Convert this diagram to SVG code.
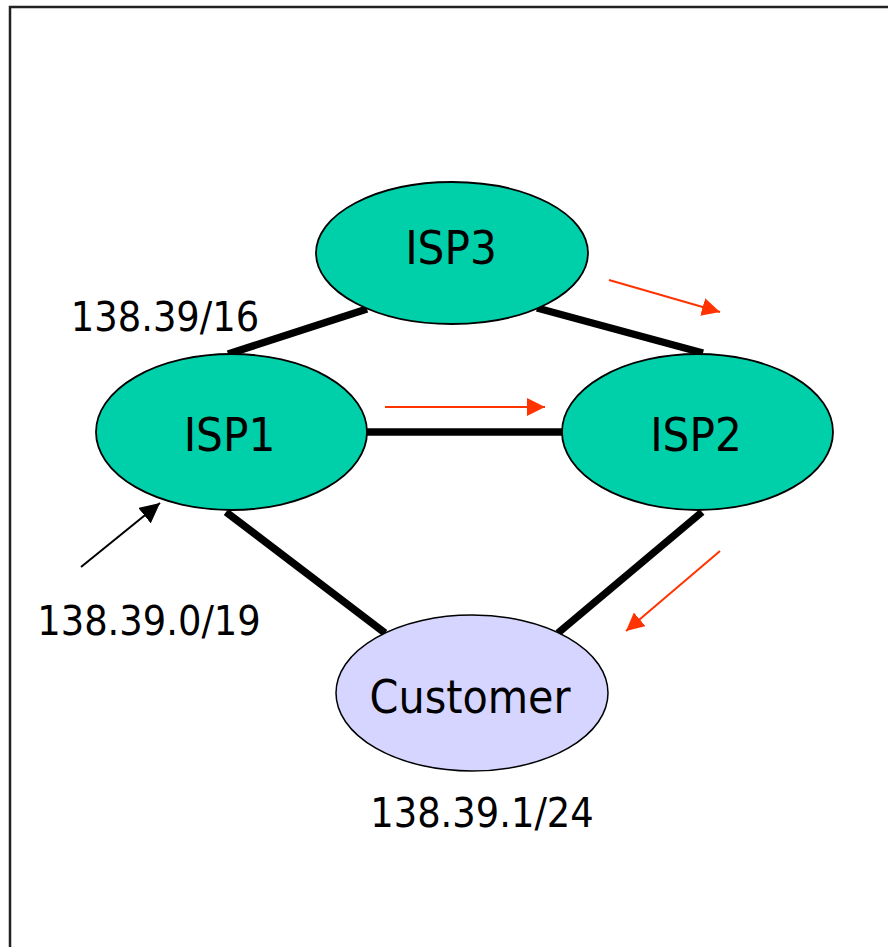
<svg xmlns="http://www.w3.org/2000/svg" width="888" height="947" viewBox="0 0 888 947">
<style>
.isp{fill:#00D0AA;stroke:#000;stroke-width:1.8}
.cust{fill:#D5D5FF;stroke:#000;stroke-width:1.5}
.link{stroke:#000;stroke-width:7.5;fill:none}
.red{stroke:#FF3300;stroke-width:2;fill:none}
.blk{stroke:#000;stroke-width:2;fill:none}
text{font-family:"DejaVu Sans Condensed","DejaVu Sans",sans-serif;fill:#000}
.big{font-size:47px;font-stretch:condensed}
.lbl{font-size:41px;font-stretch:condensed}
</style>
<defs>
<marker id="ar" viewBox="0 0 10 10" refX="10" refY="5" markerWidth="9" markerHeight="9" markerUnits="strokeWidth" orient="auto">
<path d="M0,0 L10,5 L0,10 Z" fill="#FF3300"/>
</marker>
<marker id="ab" viewBox="0 0 10 10" refX="10" refY="5" markerWidth="10" markerHeight="10" markerUnits="strokeWidth" orient="auto">
<path d="M0,0 L10,5 L0,10 Z" fill="#000"/>
</marker>
</defs>
<rect x="0" y="0" width="888" height="947" fill="#fff"/>
<rect x="10" y="7" width="900" height="960" fill="none" stroke="#222" stroke-width="2.5"/>
<g id="connectors">
<line class="link" x1="228" y1="354" x2="367" y2="309"/>
<line class="link" x1="537" y1="308" x2="703" y2="353"/>
<line class="link" x1="367" y1="432" x2="562" y2="432"/>
<line class="link" x1="226" y1="512" x2="385" y2="633"/>
<line class="link" x1="702" y1="512" x2="558" y2="633"/>
<line class="red" x1="609" y1="280" x2="720" y2="312" marker-end="url(#ar)"/>
<line class="red" x1="385" y1="407" x2="545" y2="407" marker-end="url(#ar)"/>
<line class="red" x1="720" y1="551" x2="626" y2="631" marker-end="url(#ar)"/>
<line class="blk" x1="81" y1="567" x2="160" y2="503" marker-end="url(#ab)"/>
</g>
<g id="isp3">
<ellipse class="isp" cx="452" cy="253" rx="136" ry="71"/>
<text class="big" x="451" y="264" text-anchor="middle">ISP3</text>
</g>
<g id="isp1">
<ellipse class="isp" cx="231.5" cy="432" rx="135.5" ry="78"/>
<text class="big" x="229.5" y="451" text-anchor="middle">ISP1</text>
</g>
<g id="isp2">
<ellipse class="isp" cx="697.5" cy="432" rx="135.5" ry="78"/>
<text class="big" x="696" y="451" text-anchor="middle">ISP2</text>
</g>
<g id="customer">
<ellipse class="cust" cx="472" cy="693" rx="136" ry="78"/>
<text class="big" x="470" y="713" text-anchor="middle" style="font-size:46px">Customer</text>
</g>
<g id="labels">
<text class="lbl" x="165" y="331" text-anchor="middle">138.39/16</text>
<text class="lbl" x="149" y="635" text-anchor="middle">138.39.0/19</text>
<text class="lbl" x="482" y="827" text-anchor="middle">138.39.1/24</text>
</g>
</svg>
